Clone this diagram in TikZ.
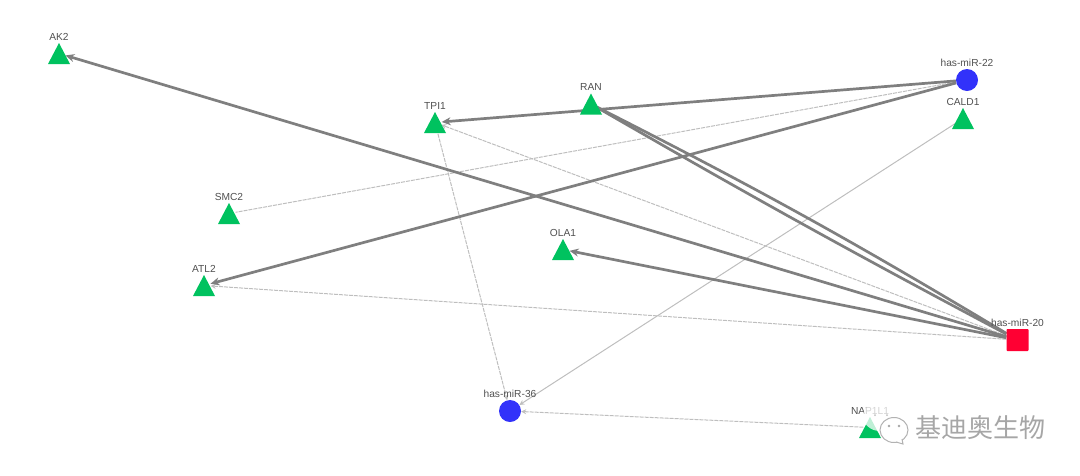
\documentclass[tikz,border=0pt]{standalone}
\usepackage{fontspec}
\setmainfont{Liberation Sans}
\newfontfamily\cjkfont{Noto Sans CJK SC}
\usetikzlibrary{shapes.geometric,arrows.meta}
\pgfdeclarelayer{edgelayer}
\pgfsetlayers{edgelayer,main}
\definecolor{genegreen}{HTML}{00C25F}
\definecolor{mirblue}{HTML}{3232FA}
\definecolor{mirred}{HTML}{FF0033}
\definecolor{edgedark}{HTML}{7F7F7F}
\definecolor{edgelight}{HTML}{BEBEBE}
\definecolor{labelgray}{HTML}{505050}
\tikzset{
  x=1pt,y=-1pt,
  lab/.style={font=\fontsize{10.2}{12}\selectfont,text=labelgray,inner sep=0pt},
  gene/.style={circle,minimum size=13pt,inner sep=0pt,draw=none,
    label={[lab,label distance=6.5pt]90:#1},
    append after command={\pgfextra{\fill[genegreen]
      ([shift={(-11,10.5)}]\tikzlastnode.center) --
      ([shift={(0,-10.5)}]\tikzlastnode.center) --
      ([shift={(11,10.5)}]\tikzlastnode.center) -- cycle;}}},
  mirc/.style={circle,minimum size=22pt,inner sep=0pt,fill=mirblue,draw=none,label={[lab,label distance=2.5pt]90:#1}},
  mirs/.style={rectangle,rounded corners=0.8pt,minimum size=22pt,inner sep=0pt,fill=mirred,draw=none,label={[lab,label distance=2.5pt]90:#1}},
  strong/.style={draw=edgedark,line width=2.7pt,-{Stealth[length=9pt,width=8pt,fill=edgedark]}},
  strongp/.style={draw=edgedark,line width=2.7pt},
  weakp/.style={draw=edgelight,line width=1pt,dash pattern=on 4pt off 1pt},
  weak/.style={weakp,-{Stealth[length=5pt,width=5pt,fill=edgelight]}},
  weaksolid/.style={draw=edgelight,line width=1pt,-{Stealth[length=5pt,width=5pt,fill=edgelight]}},
  bubble/.style={draw=#1,fill=white,line width=1pt},
}
\begin{document}
\begin{tikzpicture}
\useasboundingbox (0,0) rectangle (1080,475);
\node[gene=AK2] (ak) at (59,53.5) {};
\node[gene=TPI1] (tpi) at (435,122.5) {};
\node[gene=RAN] (ran) at (591,104) {};
\node[gene=CALD1] (cald) at (963,118.5) {};
\node[gene=SMC2] (smc) at (229,213.5) {};
\node[gene=ATL2] (atl) at (204,285.5) {};
\node[gene=OLA1] (ola) at (563,249.5) {};
\node[gene=NAP1L1] (nap) at (870,427.5) {};
\node[mirc=has-miR-22] (m22) at (967,80) {};
\node[mirc=has-miR-36] (m36) at (510,411) {};
\node[mirs=has-miR-20] (m20) at (1017.5,340) {};
\begin{pgfonlayer}{edgelayer}
  \draw[weakp] (m22) -- (smc);
  \draw[weak] (m20) -- (atl);
  \draw[weak] (m20) -- (tpi);
  \draw[weak] (tpi) -- (m36);
  \draw[weak] (nap) -- (m36);
  \draw[weaksolid] (cald) -- (m36);
  \draw[strong] (m20) -- (ak);
  \draw[strong] (m20) -- (ola);
  \draw[strong] (m22) -- (tpi);
  \draw[strong] (m22) -- (atl);
  \draw[strongp] (ran) to[bend right=1] (m20);
  \draw[strongp] (ran) to[bend left=2] (m20);
\end{pgfonlayer}
% watermark
\fill[white,opacity=0.75] (880,416) ellipse (17 and 15);
\fill[gray!50] (875,415) circle (1) (887,415) circle (1);
\draw[bubble=gray!60,fill opacity=0.85] (894,430) ellipse (14 and 12.5);
\draw[gray!60,fill=white,line width=1pt] (896,442) -- (903,444) -- (902,439);
\fill[gray!70] (889,426) circle (1.3) (899,426) circle (1.3);
\node[font=\cjkfont\fontsize{26}{28}\selectfont,text=gray!70,inner sep=0pt] (wm) at (980,428) {基迪奥生物};
\end{tikzpicture}
\end{document}
